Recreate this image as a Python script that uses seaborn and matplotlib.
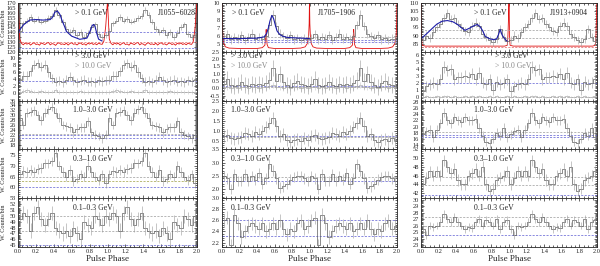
import numpy as np
import matplotlib
matplotlib.use("Agg")
import matplotlib.pyplot as plt
import seaborn as sns
from matplotlib.ticker import AutoMinorLocator

# ---- data: weighted counts per phase bin (one rotation, 25 bins, shown twice)
bands = ["> 0.1 GeV", "> 3.0 GeV", "1.0\u20133.0 GeV", "0.3\u20131.0 GeV", "0.1\u20130.3 GeV"]
psr_names = ["J1055\u22126028", "J1705\u22121906", "J1913+0904"]

j1055_all = [141, 149, 152, 156, 152, 154, 151, 152, 155, 157, 163, 158, 151, 143, 140,
             142, 137, 140, 135, 139, 145, 148, 138, 135, 137]
j1055_gt3 = [3.8, 4.9, 5.0, 6.2, 8.1, 8.5, 7.5, 8.1, 6.0, 4.2, 3.2, 3.5, 3.0, 3.8, 4.6,
             3.6, 3.0, 3.5, 3.8, 3.2, 3.4, 3.0, 3.6, 3.3, 3.7]
j1055_gt10 = [0.3, 0.5, 0.9, 0.5, 0.4, 0.3, 0.6, 0.4, 0.3, 0.4, 0.8, 0.3, 0.4, 0.2, 0.4,
              0.2, 0.3, 0.5, 0.2, 0.3, 0.4, 0.3, 0.3, 0.2, 0.3]
j1055_1_3 = [29, 26, 31, 31.5, 32, 30, 28, 31, 32.5, 33.5, 31, 29, 26, 25.5, 25,
             23, 24.5, 25, 25, 27.5, 23, 22, 21.5, 20.5, 22]
j1055_03_1 = [66, 67.5, 67, 68, 67, 68.5, 69, 71, 71, 72, 76, 70, 67, 65, 68,
              63, 64, 66, 65, 70, 67, 65, 63.5, 66, 62]
j1055_01_03 = [49.5, 50.5, 50, 47.5, 50.5, 51.5, 49.5, 48.5, 49.5, 50.5, 48, 47.5, 47, 47.5, 46.5,
               48, 47, 46, 49, 48.5, 48, 50, 49.5, 48.5, 50]

j1705_all = [5.8, 6.2, 5.6, 5.9, 5.7, 6.1, 5.5, 5.9, 6.3, 5.7, 5.9, 5.6, 6.0, 7.3, 8.6,
             7.2, 6.3, 6.0, 5.8, 6.1, 5.6, 5.8, 5.5, 5.7, 5.6]
j1705_gt3 = [0.3, 0.6, 0.2, 0.15, 0.2, 0.4, 0.2, 0.15, 0.3, 0.2, 0.3, 0.2, 0.35, 0.55, 1.4,
             0.5, 0.95, 0.4, 0.2, 0.1, 0.35, 0.5, 0.3, 0.2, 0.15]
j1705_gt10 = [0.05, 0.1, 0.0, 0.05, 0.0, 0.1, 0.05, 0.0, 0.05, 0.1, 0.0, 0.05, 0.1, 0.15, 0.2,
              0.1, 0.05, 0.0, 0.05, 0.0, 0.1, 0.05, 0.0, 0.05, 0.0]
j1705_1_3 = [0.75, 0.8, 0.65, 0.6, 0.65, 0.7, 0.9, 0.85, 0.75, 0.95, 0.85, 1.0, 1.2, 1.4, 1.65,
             1.25, 0.75, 0.85, 0.55, 0.45, 0.55, 0.6, 0.5, 0.65, 0.55]
j1705_03_1 = [2.5, 2.4, 2.0, 2.55, 2.3, 2.3, 2.55, 2.3, 2.5, 2.35, 2.6, 2.2, 2.4, 2.95, 2.7,
              2.4, 2.05, 2.1, 2.2, 2.35, 2.45, 2.5, 2.5, 2.4, 2.3]
j1705_01_03 = [2.6, 2.65, 2.15, 2.7, 2.55, 2.3, 2.4, 2.5, 2.55, 2.5, 2.45, 2.55, 2.4, 2.45, 2.55,
               2.45, 2.6, 2.45, 2.35, 2.45, 2.4, 2.55, 2.6, 2.45, 2.5]

j1913_all = [87.5, 90, 88.5, 92, 95, 97, 101, 104, 100, 101, 97, 95, 93, 92, 96,
             98, 96, 91, 89, 87, 86, 88, 94, 89, 86.5]
j1913_gt3 = [0.8, 1.5, 1.8, 2.0, 1.8, 2.5, 4.3, 3.8, 4.0, 2.5, 2.8, 2.8, 3.0, 2.8, 3.3,
             2.5, 3.5, 2.0, 1.8, 2.5, 1.0, 2.2, 1.8, 2.0, 2.5]
j1913_gt10 = [0.0, 0.05, 0.0, 0.0, 0.1, 0.0, 0.05, 0.1, 0.0, 0.05, 0.0, 0.0, 0.05, 0.0, 0.1,
              0.0, 0.05, 0.0, 0.0, 0.05, 0.0, 0.1, 0.0, 0.0, 0.05]
j1913_1_3 = [17.5, 18.5, 19, 16.5, 19, 21, 24.5, 22, 21, 23, 22, 21.5, 23, 22, 22,
             22.5, 19.5, 17, 15, 14.5, 16, 18, 17, 19.5, 16.5]
j1913_03_1 = [44, 45.5, 47, 46, 47, 46, 49.5, 48, 46.5, 47.5, 45, 44, 44, 46, 46.5,
              47.5, 46, 48, 44, 42.5, 43, 45, 45.5, 46, 47]
j1913_01_03 = [25.5, 24.5, 26, 25.8, 26, 26.5, 27.8, 27, 26.5, 27.3, 26.5, 26, 25.5, 25.8, 25.6,
               26.5, 27, 26, 26.8, 26.5, 26, 27, 25.5, 26.5, 26.8]

# typical 1-sigma error per panel (top to bottom), and for the >10 GeV curve
j1055_err = [3.0, 1.3, 1.8, 2.2, 1.2]
j1705_err = [0.5, 0.55, 0.3, 0.2, 0.12]
j1913_err = [2.5, 0.8, 1.5, 1.3, 0.6]
gt10_err = [0.5, 0.2, 0.15]

# fitted light curves (> 0.1 GeV), phase / value pairs
j1055_fit_ph = [0.0, 0.06, 0.13, 0.2, 0.28, 0.36, 0.39, 0.41, 0.44, 0.47, 0.49, 0.52, 0.54,
                0.6, 0.69, 0.77, 0.8, 0.83, 0.845, 0.86, 0.88, 0.9, 0.94]
j1055_fit = [140, 147.5, 152.5, 153, 152.5, 153, 156, 160.5, 161.8, 158, 152.5, 146, 141,
             136, 132.8, 134, 140, 147, 148, 146, 139, 133, 131]
j1705_fit_ph = [0.0, 0.2, 0.4, 0.48, 0.51, 0.53, 0.55, 0.57, 0.59, 0.61, 0.63, 0.66, 0.69,
                0.74, 0.8, 0.9, 1.0]
j1705_fit = [5.7, 5.7, 5.75, 5.9, 6.3, 7.0, 7.9, 8.5, 8.1, 7.3, 6.6, 6.2, 6.0, 5.85, 5.8, 5.75, 5.7]
j1913_fit_ph = [0.0, 0.07, 0.13, 0.18, 0.24, 0.3, 0.36, 0.41, 0.46, 0.5, 0.55, 0.6, 0.64,
                0.67, 0.7, 0.73, 0.78, 0.83, 0.86, 0.88, 0.9, 0.92, 0.95, 0.98]
j1913_fit = [88, 91.4, 94.5, 97, 98.8, 99.2, 98.5, 97, 94.8, 93.2, 94.5, 96, 96.8,
             95.5, 93, 89.5, 88, 87.4, 88, 90.5, 93.8, 90.5, 88, 86.5]

# radio profiles (one rotation)
j1055_radio_ph = [0.0, 0.02] + [0.04 + 0.02 * i for i in range(46)] + [0.96, 0.98]
j1055_radio = [172, 133,
               128.5, 127.2, 129.1, 127.8, 128.9, 126.9, 128.3, 129.4, 127.5, 128.0, 126.8, 129.0,
               128.2, 127.4, 128.8, 129.6, 127.1, 128.4, 127.9, 126.6, 128.7, 129.2, 127.6, 128.1,
               127.3, 128.9, 126.9, 128.5, 129.3, 127.7, 128.2, 127.0, 128.6, 129.0, 127.4, 128.3,
               126.8, 128.8, 127.9, 129.1, 127.5, 128.4, 127.2, 128.9, 128.0, 127.6,
               131, 146]
j1705_radio_ph = [0.0, 0.004, 0.01, 0.02, 0.04, 0.08, 0.2, 0.4, 0.46, 0.49, 0.5, 0.505, 0.515,
                  0.53, 0.6, 0.8, 0.9, 0.95, 0.975, 0.99, 0.996]
j1705_radio = [10.5, 7.5, 6.0, 5.1, 4.7, 4.55, 4.5, 4.5, 4.6, 4.9, 6.0, 6.8, 5.0,
               4.6, 4.5, 4.5, 4.55, 4.7, 5.1, 6.0, 7.5]
j1913_radio_ph = [0.0, 0.006, 0.012, 0.05, 0.5, 0.95, 0.98, 0.988, 0.994]
j1913_radio = [115, 90, 84, 83.5, 83.5, 83.5, 84, 90, 100]

# background levels (dashed) per panel: (level, colour key)
j1055_bkg = [[(140.5, "b"), (130, "r"), (124, "b")], [(3.3, "b"), (0.3, "g")],
             [(22.5, "g"), (21.7, "b"), (20.8, "b")], [(65, "g"), (63, "o"), (60, "b")],
             [(50, "g"), (47.5, "g"), (45, "b")]]
j1705_bkg = [[(5.9, "g"), (5.5, "b"), (5.25, "b")], [(0.15, "b"), (0.05, "g")],
             [(0.76, "b"), (0.72, "g")], [(2.45, "g"), (2.3, "b")], [(2.6, "b"), (2.32, "b")]]
j1913_bkg = [[(93.5, "g"), (88.5, "g"), (83, "r")], [(2.0, "b"), (0.0, "g")],
             [(18.2, "g"), (17.2, "b"), (16.6, "b")], [(45.7, "g"), (43.8, "g"), (41.6, "b")],
             [(27.3, "g"), (26.0, "g"), (24.5, "b")]]

# ---- style
sns.set_theme(style="ticks")
plt.rcParams["font.family"] = ["Liberation Serif", "DejaVu Serif"]
plt.rcParams["axes.linewidth"] = 0.6
plt.rcParams["xtick.direction"] = "in"
plt.rcParams["ytick.direction"] = "in"

hist_c = "#5c5c5c"
err_c = "#9a9a9a"
light_c = "#ababab"
fit_c = "#1c1ca8"
radio_c = "#e01010"
bkg_colors = {"b": "#5a5ad2", "g": "#9a9a9a", "r": "#e06060", "o": "#a0a040"}

columns = [
    dict(data=[j1055_all, j1055_gt3, j1055_1_3, j1055_03_1, j1055_01_03], gt10=j1055_gt10,
         err=j1055_err, fit=(j1055_fit_ph, j1055_fit), radio=(j1055_radio_ph, j1055_radio),
         bkg=j1055_bkg,
         ylims=[(120, 170), (-2.2, 11.8), (16, 36), (55, 77.5), (44.7, 53)],
         yticks=[np.arange(120, 171, 5), np.arange(0, 11, 2), np.arange(18, 37, 2),
                 np.arange(60, 76, 5), np.arange(45, 54, 1)],
         tick_fmt=["%d"] * 5, label_x=[0.32, 0.32, 0.31, 0.31, 0.31], name_x=0.78),
    dict(data=[j1705_all, j1705_gt3, j1705_1_3, j1705_03_1, j1705_01_03], gt10=j1705_gt10,
         err=j1705_err, fit=(j1705_fit_ph, j1705_fit), radio=(j1705_radio_ph, j1705_radio),
         bkg=j1705_bkg,
         ylims=[(4.1, 10), (-0.85, 2.5), (0.1, 2.5), (1.65, 3.5), (2.12, 3.0)],
         yticks=[np.arange(5, 11, 1), np.arange(-0.5, 2.6, 0.5), np.arange(0.5, 2.6, 0.5),
                 np.arange(2.0, 3.6, 0.5), np.arange(2.2, 3.01, 0.2)],
         tick_fmt=["%d", "%.1f", "%.1f", "%.1f", "%.1f"],
         label_x=[0.06, 0.05, 0.05, 0.05, 0.05], name_x=0.55),
    dict(data=[j1913_all, j1913_gt3, j1913_1_3, j1913_03_1, j1913_01_03], gt10=j1913_gt10,
         err=j1913_err, fit=(j1913_fit_ph, j1913_fit), radio=(j1913_radio_ph, j1913_radio),
         bkg=j1913_bkg,
         ylims=[(80, 110), (-0.55, 6.5), (12.5, 28.5), (40.8, 52), (22.7, 30.2)],
         yticks=[np.arange(85, 111, 5), np.arange(0, 7, 1), np.arange(14, 29, 2),
                 np.arange(42, 53, 2), np.arange(23, 31, 1)],
         tick_fmt=["%d"] * 5, label_x=[0.3, 0.42, 0.3, 0.3, 0.3], name_x=0.73),
]

W, H = 600, 266
fig = plt.figure(figsize=(W / 100, H / 100), dpi=100)
col_left = [18, 222, 421]
col_width = [179, 175, 176]
top_px, bottom_px = 3, 247
row_h = (bottom_px - top_px) / 5

nb = len(j1055_all)
edges = np.linspace(0, 2, 2 * nb + 1)
centers = 0.5 * (edges[:-1] + edges[1:])


def draw_hist(ax, vals, err, color, ecolor):
    v2 = np.array(vals + vals, dtype=float)
    sns.lineplot(x=edges, y=np.append(v2, v2[-1]), ax=ax, drawstyle="steps-post",
                 color=color, lw=0.5, sort=False)
    ax.errorbar(centers, v2, yerr=err, fmt="none", ecolor=ecolor, elinewidth=0.4, capsize=0)


for c, col in enumerate(columns):
    for r in range(5):
        y0 = top_px + r * row_h
        ax = fig.add_axes([col_left[c] / W, 1 - (y0 + row_h) / H, col_width[c] / W, row_h / H])

        if r == 0:
            rph, rv = col["radio"]
            rph2 = np.array(list(rph) + [p + 1 for p in rph] + [2.0])
            rv2 = np.array(list(rv) + list(rv) + [rv[0]])
            sns.lineplot(x=rph2, y=rv2, ax=ax, color=radio_c, lw=0.6, sort=False)

        for level, key in col["bkg"][r]:
            ax.axhline(level, color=bkg_colors[key], lw=0.5, ls=(0, (3, 2)))

        if r == 1:
            draw_hist(ax, col["gt10"], gt10_err[c], light_c, "#c8c8c8")
        draw_hist(ax, col["data"][r], col["err"][r], hist_c, err_c)

        if r == 0:
            fph, fv = col["fit"]
            sns.lineplot(x=fph, y=fv, ax=ax, color=fit_c, lw=0.8, sort=False)

        ax.set_xlim(0, 2)
        ax.set_ylim(*col["ylims"][r])
        ax.set_yticks(col["yticks"][r])
        ax.set_yticklabels([col["tick_fmt"][r] % t for t in col["yticks"][r]])
        ax.set_xticks(np.arange(0, 2.01, 0.2))
        ax.xaxis.set_minor_locator(AutoMinorLocator(4))
        ax.yaxis.set_minor_locator(AutoMinorLocator(5))
        ax.tick_params(which="both", top=True, right=True, labelsize=4.6, pad=1.5, width=0.5)
        ax.tick_params(which="major", length=2.5)
        ax.tick_params(which="minor", length=1.2)
        if r < 4:
            ax.set_xticklabels([])
        else:
            ax.set_xticklabels(["%.1f" % t for t in np.arange(0, 2.01, 0.2)])
            ax.set_xlabel("Pulse Phase", fontsize=6.5, labelpad=1)
        if c == 0:
            ax.set_ylabel("W. Counts/bin", fontsize=4.4)
            ax.yaxis.set_label_coords(-0.068, 0.5)
        else:
            ax.set_ylabel("")

        lx = col["label_x"][r]
        if r == 0:
            ax.text(lx, 0.88, bands[0], transform=ax.transAxes, fontsize=5.6, va="top")
            ax.text(col["name_x"], 0.88, psr_names[c], transform=ax.transAxes,
                    fontsize=5.6, va="top")
        elif r == 1:
            ax.text(lx, 0.99, bands[1], transform=ax.transAxes, fontsize=5.6, va="top")
            ax.text(lx, 0.80, "> 10.0 GeV", transform=ax.transAxes, fontsize=5.6, va="top",
                    color="#8a8a8a")
        else:
            ax.text(lx, 0.88, bands[r], transform=ax.transAxes, fontsize=5.6, va="top")

fig.savefig("out.png", dpi=100)
